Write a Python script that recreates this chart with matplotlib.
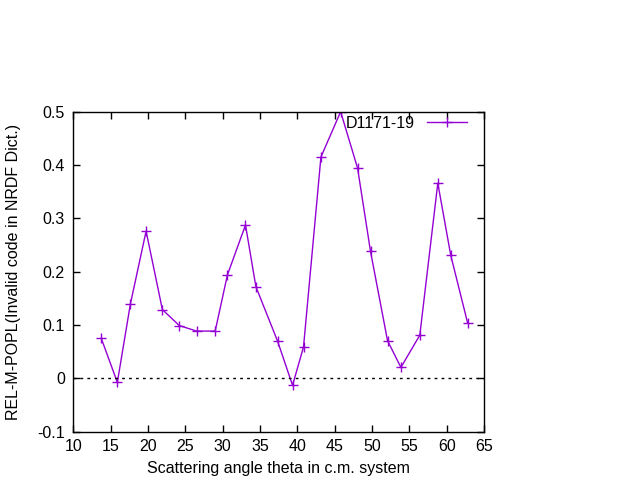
import matplotlib
matplotlib.use("Agg")
import matplotlib.pyplot as plt

theta = [13.75, 15.9, 17.64, 19.75, 21.93, 24.2, 26.5, 29.0, 30.64, 33.06, 34.45,
         37.35, 39.36, 40.83, 43.16, 45.8, 48.07, 49.8, 52.08, 53.87, 56.4, 58.81,
         60.54, 62.8]
popl = [0.075, -0.0075, 0.139, 0.276, 0.129, 0.099, 0.0887, 0.0887, 0.194, 0.2876,
        0.172, 0.070, -0.013, 0.059, 0.415, 0.5, 0.394, 0.238, 0.0706, 0.0206, 0.081,
        0.366, 0.231, 0.104]
xticks = [10, 15, 20, 25, 30, 35, 40, 45, 50, 55, 60, 65]
yticks = [-0.1, 0, 0.1, 0.2, 0.3, 0.4, 0.5]
yticklabels = ["-0.1", "0", "0.1", "0.2", "0.3", "0.4", "0.5"]

plt.rcParams['font.family'] = ['Liberation Sans', 'DejaVu Sans']
fs = 11.5
fig = plt.figure(figsize=(6.4, 4.8), dpi=100)
ax = fig.add_axes([0.1145, 0.1006, 0.7563 - 0.1145, 0.7673 - 0.1006])
ax.plot(theta, popl, color='#9400D3', lw=1, marker='+', ms=6.5, mew=1, label='D1171-19')
ax.axhline(0, color='black', lw=1, ls=(0, (2, 3)))
ax.set_xlim(10, 65)
ax.set_ylim(-0.1, 0.5)
ax.set_xticks(xticks)
ax.set_xticklabels([str(t) for t in xticks], fontsize=fs)
ax.set_yticks(yticks)
ax.set_yticklabels(yticklabels, fontsize=fs)
ax.tick_params(direction='in', top=True, right=True, length=5, width=1)
ax.tick_params(axis='y', pad=6)
ax.tick_params(axis='x', pad=5)
for s in ax.spines.values():
    s.set_linewidth(1)
ax.set_xlabel('Scattering angle theta in c.m. system', fontsize=fs, labelpad=5)
ax.set_ylabel('REL-M-POPL(Invalid code in NRDF Dict.)', fontsize=fs, labelpad=12)
leg = ax.legend(loc='upper right', frameon=False, fontsize=fs, markerfirst=False,
                handlelength=2.5, handletextpad=0.8, borderpad=0, borderaxespad=0,
                bbox_to_anchor=(0.9586, 0.988))
fig.savefig('out.png', dpi=100)
